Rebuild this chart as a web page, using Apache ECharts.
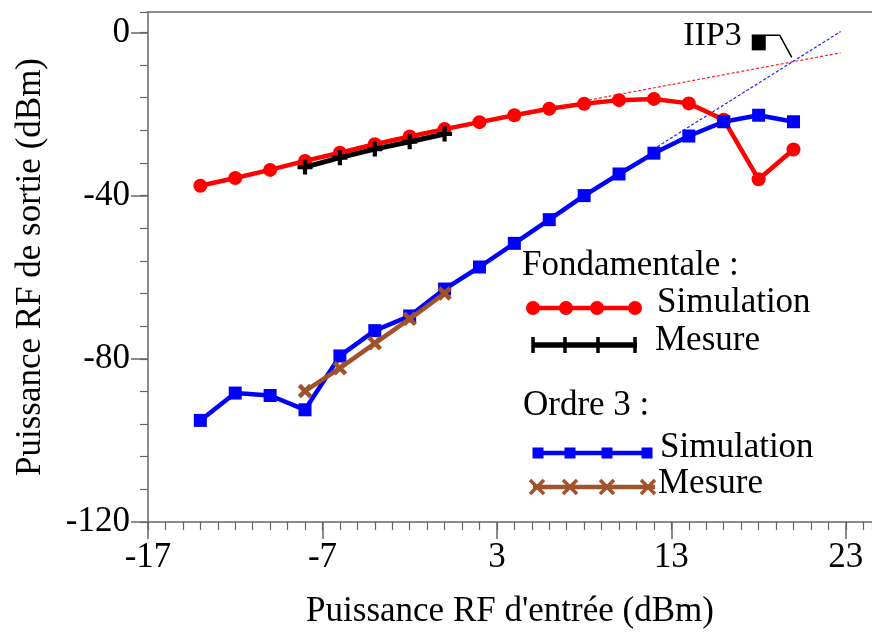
<!DOCTYPE html>
<html><head><meta charset="utf-8">
<script src="https://cdn.jsdelivr.net/npm/echarts@6/dist/echarts.min.js"></script>
<style>html,body{margin:0;padding:0;background:#fff}#c{width:872px;height:634px}</style>
</head><body><div id="c"></div>
<script>
// ---- data ----
const xSim = [-14, -12, -10, -8, -6, -4, -2, 0, 2, 4, 6, 8, 10, 12, 14, 16, 18, 20];
const fundSim = [-37.6, -35.7, -33.7, -31.5, -29.5, -27.4, -25.5, -23.7, -22.0, -20.3, -18.7, -17.5, -16.6, -16.3, -17.4, -21.4, -36.0, -28.7];
const ord3Sim = [-95.1, -88.4, -89.0, -92.5, -79.3, -73.1, -69.5, -62.9, -57.5, -51.7, -45.9, -40.0, -34.7, -29.6, -25.4, -21.9, -20.3, -21.9];
const xMeas = [-8, -6, -4, -2, 0];
const fundMeas = [-33.0, -30.7, -28.6, -26.8, -24.9];
const ord3Meas = [-87.9, -82.3, -76.2, -70.2, -64.0];
const fundExtrapX = [8, 22.7];
const fundExtrapY = [-16.8, -5.0];
const ord3ExtrapX = [12.2, 22.7];
const ord3ExtrapY = [-28.0, 0.2];
const iip3 = [19.9, -7.1];
const xTickLabels = [-17, -7, 3, 13, 23];
const yTickLabels = [-120, -80, -40, 0];
const xMax = 24.5, yMax = 5, xMinorStep = 1, yMinorStep = 8;

const FONT = 'Liberation Serif';
const AX = '#666';
const zip = (xs, ys) => xs.map((x, i) => [x, ys[i]]);
const PLUS = 'path://M3.6,0H6.4V3.6H10V6.4H6.4V10H3.6V6.4H0V3.6H3.6Z';

const xMin = xTickLabels[0], xInt = xTickLabels[1] - xTickLabels[0];
const yMin = yTickLabels[0], yInt = yTickLabels[1] - yTickLabels[0];

const chart = echarts.init(document.getElementById('c'), null, {renderer: 'canvas'});

function legendLine(x0, x1, y, color, width, sym, marks) {
  const els = [{type: 'line', shape: {x1: x0, y1: y, x2: x1, y2: y}, style: {stroke: color, lineWidth: width}}];
  marks.forEach(mx => {
    if (sym === 'circle') els.push({type: 'circle', shape: {cx: mx, cy: y, r: 7}, style: {fill: color}});
    else if (sym === 'rect') els.push({type: 'rect', shape: {x: mx - 5.5, y: y - 5.5, width: 11, height: 11}, style: {fill: color}});
    else if (sym === 'plus') {
      els.push({type: 'line', shape: {x1: mx, y1: y - 8, x2: mx, y2: y + 8}, style: {stroke: color, lineWidth: 3.5}});
    } else if (sym === 'x') {
      els.push({type: 'line', shape: {x1: mx - 7, y1: y - 7, x2: mx + 7, y2: y + 7}, style: {stroke: color, lineWidth: 3.5}});
      els.push({type: 'line', shape: {x1: mx - 7, y1: y + 7, x2: mx + 7, y2: y - 7}, style: {stroke: color, lineWidth: 3.5}});
    }
  });
  return els;
}
function txt(s, x, y) {
  return {type: 'text', style: {text: s, x: x, y: y, fontSize: 35, fontFamily: FONT, fill: '#000', verticalAlign: 'middle'}};
}
const graphics = [].concat(
  [txt('Fondamentale :', 522, 266)],
  legendLine(531, 637, 308, '#ff0000', 4.5, 'circle', [533, 566, 597, 635]),
  [txt('Simulation', 657, 303)],
  legendLine(532, 637, 345, '#000000', 5.5, 'plus', [533, 565, 598, 635]),
  [txt('Mesure', 655, 341)],
  [txt('Ordre 3 :', 523, 406)],
  legendLine(535, 652, 453, '#0000ff', 4.5, 'rect', [538, 570, 607, 647]),
  [txt('Simulation', 660, 448)],
  legendLine(533, 655, 487, '#a0522d', 4.5, 'x', [537, 570, 607, 648]),
  [txt('Mesure', 658, 484)]
);

const baseX = {type: 'value', min: xMin, max: xMax, splitLine: {show: false}};
const baseY = {type: 'value', min: yMin, max: yMax, splitLine: {show: false}};

chart.setOption({
  animation: false,
  backgroundColor: '#fff',
  textStyle: {fontFamily: FONT},
  grid: {left: 148, top: 12, right: 0, bottom: 112, containLabel: false, outerBoundsMode: 'none'},
  xAxis: [
    Object.assign({}, baseX, {
      position: 'bottom', interval: xInt,
      axisLine: {show: true, onZero: false, lineStyle: {color: AX, width: 1.5}},
      axisTick: {show: true, length: 17, inside: false, lineStyle: {color: AX, width: 1.5}},
      axisLabel: {show: true, showMaxLabel: false, margin: 18, fontSize: 35, color: '#000', fontFamily: FONT},
      name: "Puissance RF d'entrée (dBm)", nameLocation: 'middle', nameGap: 72,
      nameTextStyle: {fontSize: 35, color: '#000', fontFamily: FONT}
    }),
    Object.assign({}, baseX, {
      position: 'bottom', interval: xMinorStep,
      axisLine: {show: false, onZero: false},
      axisTick: {show: true, length: 8, inside: false, lineStyle: {color: AX, width: 1.2}},
      axisLabel: {show: false}
    }),
    Object.assign({}, baseX, {
      position: 'top', interval: xInt,
      axisLine: {show: true, onZero: false, lineStyle: {color: AX, width: 1.5}},
      axisTick: {show: false}, axisLabel: {show: false}
    })
  ],
  yAxis: [
    Object.assign({}, baseY, {
      position: 'left', interval: yInt,
      axisLine: {show: true, onZero: false, lineStyle: {color: AX, width: 1.5}},
      axisTick: {show: true, length: 17, inside: false, lineStyle: {color: AX, width: 1.5}},
      axisLabel: {show: true, showMaxLabel: false, margin: 18, fontSize: 35, color: '#000', fontFamily: FONT},
      name: 'Puissance RF de sortie (dBm)', nameLocation: 'middle', nameGap: 100,
      nameTextStyle: {fontSize: 35, color: '#000', fontFamily: FONT}
    }),
    Object.assign({}, baseY, {
      position: 'left', interval: yMinorStep,
      axisLine: {show: false, onZero: false},
      axisTick: {show: true, length: 8, inside: false, lineStyle: {color: AX, width: 1.2}},
      axisLabel: {show: false}
    })
  ],
  graphic: graphics,
  series: [
    {name: 'Fondamentale extrapolée', type: 'line', data: zip(fundExtrapX, fundExtrapY), showSymbol: false, z: 1,
     lineStyle: {color: '#ff2020', width: 1.2, type: [3, 2]}, silent: true},
    {name: 'Ordre 3 extrapolé', type: 'line', data: zip(ord3ExtrapX, ord3ExtrapY), showSymbol: false, z: 1,
     lineStyle: {color: '#2020ff', width: 1.2, type: [3, 2]}, silent: true},
    {name: 'Fondamentale Simulation', type: 'line', data: zip(xSim, fundSim), z: 3,
     symbol: 'circle', symbolSize: 14, showAllSymbol: true,
     lineStyle: {color: '#ff0000', width: 4.5}, itemStyle: {color: '#ff0000'}},
    {name: 'Fondamentale Mesure', type: 'line', data: zip(xMeas, fundMeas), z: 4,
     symbol: PLUS, symbolSize: 15, showAllSymbol: true,
     lineStyle: {color: '#000000', width: 5}, itemStyle: {color: '#000000'}},
    {name: 'Ordre 3 Simulation', type: 'line', data: zip(xSim, ord3Sim), z: 3,
     symbol: 'rect', symbolSize: 13, showAllSymbol: true,
     lineStyle: {color: '#0000ff', width: 4.5}, itemStyle: {color: '#0000ff'}},
    {name: 'Ordre 3 Mesure', type: 'line', data: zip(xMeas, ord3Meas), z: 4,
     symbol: PLUS, symbolRotate: 45, symbolSize: 16, showAllSymbol: true,
     lineStyle: {color: '#a0522d', width: 4.5}, itemStyle: {color: '#a0522d'}},
    {name: 'IIP3', type: 'custom', data: [iip3], z: 6, silent: true, clip: false,
     renderItem: function (params, api) {
       const p = api.coord([api.value(0), api.value(1)]);
       return {type: 'group', children: [
         {type: 'polyline', shape: {points: [[p[0] - 40, p[1] - 26], [p[0] - 12, p[1] - 26], [p[0], p[1] - 4]]},
          style: {stroke: '#000', lineWidth: 1.5, fill: null}},
         {type: 'rect', shape: {x: p[0] - 40, y: p[1] - 26, width: 14, height: 15}, style: {fill: '#000'}},
         {type: 'text', style: {text: 'IIP3', x: p[0] - 50, y: p[1] - 25, align: 'right', verticalAlign: 'middle',
           fontSize: 34, fontFamily: FONT, fill: '#000'}}
       ]};
     }}
  ]
});
</script></body></html>
